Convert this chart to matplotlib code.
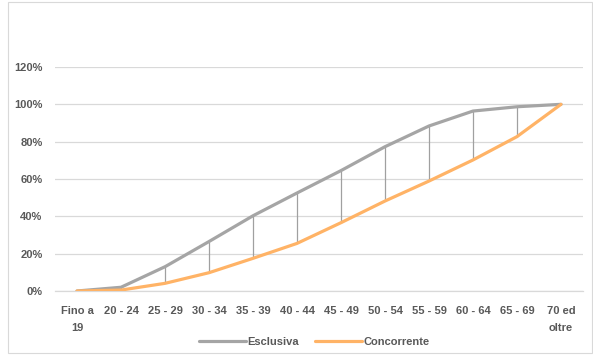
import matplotlib.pyplot as plt
from matplotlib.patches import Rectangle

categorie = ['Fino a\n19', '20 - 24', '25 - 29', '30 - 34', '35 - 39', '40 - 44',
             '45 - 49', '50 - 54', '55 - 59', '60 - 64', '65 - 69', '70 ed\noltre']
esclusiva = [0.0, 2.0, 13.0, 26.5, 40.3, 52.5, 64.5, 77.3, 88.4, 96.4, 98.7, 100.0]
concorrente = [0.0, 0.5, 4.1, 9.8, 17.5, 25.5, 36.6, 48.2, 58.9, 70.2, 82.7, 100.0]

plt.rcParams['font.family'] = ['Liberation Sans', 'DejaVu Sans']

fig = plt.figure(figsize=(5.93, 3.55), dpi=100)
ax = fig.add_axes([55 / 593, 1 - 291 / 355, 528 / 593, 224 / 355])

x = list(range(len(categorie)))

# linee verticali tra le due serie
ax.vlines(x, concorrente, esclusiva, colors='#a0a0a0', linewidth=0.9, zorder=2)

ax.plot(x, esclusiva, color='#a5a5a5', linewidth=2.3, label='Esclusiva',
        solid_capstyle='round', zorder=3)
ax.plot(x, concorrente, color='#ffb366', linewidth=2.3, label='Concorrente',
        solid_capstyle='round', zorder=3)

ax.set_xlim(-0.5, len(categorie) - 0.5)
ax.set_ylim(0, 120)
ax.set_yticks(range(0, 121, 20))
ax.set_yticklabels(['%d%%' % v for v in range(0, 121, 20)])
ax.set_xticks(x)
ax.set_xticklabels(categorie)
ax.tick_params(axis='both', length=0, labelsize=8, labelcolor='#595959')
ax.tick_params(axis='y', pad=9)
ax.tick_params(axis='x', pad=11)
for lab in ax.get_xticklabels():
    lab.set_fontweight('bold')
    lab.set_linespacing(1.9)
for lab in ax.get_yticklabels():
    lab.set_fontweight('bold')

ax.grid(axis='y', color='#d9d9d9', linewidth=0.9)
ax.set_axisbelow(True)
for s in ['top', 'right', 'left']:
    ax.spines[s].set_visible(False)
ax.spines['bottom'].set_color('#d9d9d9')
ax.spines['bottom'].set_linewidth(0.9)

leg = fig.legend(loc='center', bbox_to_anchor=(0.53, 1 - 342 / 355), ncol=2,
                 frameon=False, fontsize=8, handlelength=4.2, handletextpad=0.1,
                 columnspacing=1.5)
for t in leg.get_texts():
    t.set_color('#595959')
    t.set_fontweight('bold')

fig.patches.append(Rectangle((8 / 593, 0.005), 1 - 9 / 593, 0.99,
                             transform=fig.transFigure, fill=False,
                             edgecolor='#d9d9d9', linewidth=0.8))

fig.savefig('out.png', dpi=100)
